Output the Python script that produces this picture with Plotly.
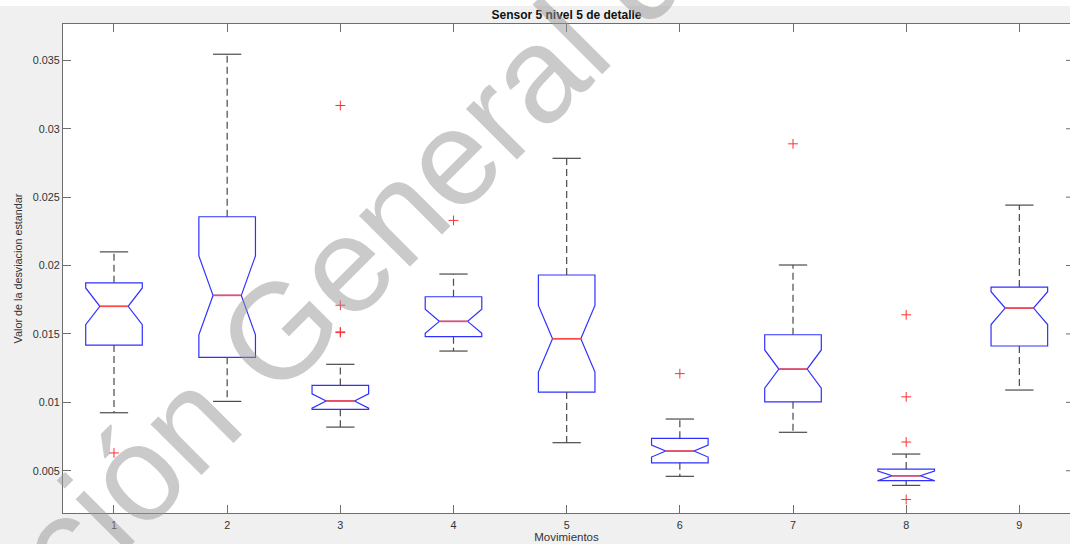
import plotly.graph_objects as go

# ---- data ----
movimientos = [1, 2, 3, 4, 5, 6, 7, 8, 9]
q1 = [0.01419, 0.01329, 0.00949, 0.01480, 0.01075, 0.00558, 0.01004, 0.00427, 0.01412]
medians = [0.01702, 0.01782, 0.01010, 0.01592, 0.01465, 0.00644, 0.01243, 0.00463, 0.01689]
q3 = [0.01874, 0.02357, 0.01124, 0.01772, 0.01931, 0.00737, 0.01494, 0.00512, 0.01843]
whisker_low = [0.00924, 0.01007, 0.00819, 0.01375, 0.00705, 0.00459, 0.00781, 0.00393, 0.01090]
whisker_high = [0.02100, 0.03545, 0.01278, 0.01938, 0.02784, 0.00878, 0.02004, 0.00622, 0.02442]
notch_span = [0.00134, 0.00289, 0.00052, 0.00088, 0.00244, 0.00044, 0.00140, 0.00035, 0.00120]

outlier_x = [1, 3, 3, 3, 3, 4, 6, 7, 8, 8, 8, 8]
outlier_y = [0.0063, 0.0317, 0.0171, 0.01515, 0.0151, 0.0233, 0.0121, 0.0289,
             0.0164, 0.0104, 0.0071, 0.0029]

y_tickvals = [0.005, 0.01, 0.015, 0.02, 0.025, 0.03, 0.035]
y_ticktext = ["0.005", "0.01", "0.015", "0.02", "0.025", "0.03", "0.035"]
x_ticktext = ["1", "2", "3", "4", "5", "6", "7", "8", "9"]

title_text = "Sensor 5 nivel 5 de detalle"
x_title = "Movimientos"
y_title = "Valor de la desviacion estandar"
watermark = "ción General de"

BOX_W = 0.5
CAP_HALF = 0.125
FONT = "Liberation Sans, Arial, sans-serif"
AXIS_COL = "#6e6e6e"
TEXT_COL = "#333333"

fig = go.Figure()

# notched boxes (blue)
fig.add_trace(go.Box(
    x=movimientos, q1=q1, median=medians, q3=q3,
    lowerfence=q1, upperfence=q3,
    notched=True, notchspan=notch_span, notchwidth=0.25,
    width=BOX_W, whiskerwidth=0,
    line=dict(color="#3030ff", width=1.2),
    fillcolor="rgba(255,255,255,0)",
    boxpoints=False, hoverinfo="skip", showlegend=False,
))

# dashed whiskers
wx, wy = [], []
for p, a, b, lo, hi in zip(movimientos, q1, q3, whisker_low, whisker_high):
    wx += [p, p, None, p, p, None]
    wy += [b, hi, None, a, lo, None]
fig.add_trace(go.Scatter(x=wx, y=wy, mode="lines",
                         line=dict(color="#4a4a4a", width=1.2, dash="7px,4px"),
                         hoverinfo="skip", showlegend=False))

# whisker caps
cx, cy = [], []
for p, lo, hi in zip(movimientos, whisker_low, whisker_high):
    cx += [p - CAP_HALF, p + CAP_HALF, None, p - CAP_HALF, p + CAP_HALF, None]
    cy += [hi, hi, None, lo, lo, None]
fig.add_trace(go.Scatter(x=cx, y=cy, mode="lines",
                         line=dict(color="#4a4a4a", width=1.2),
                         hoverinfo="skip", showlegend=False))

# red medians
mx, my = [], []
for p, m in zip(movimientos, medians):
    mx += [p - BOX_W * 0.25, p + BOX_W * 0.25, None]
    my += [m, m, None]
fig.add_trace(go.Scatter(x=mx, y=my, mode="lines",
                         line=dict(color="#ff4a4a", width=1.6),
                         hoverinfo="skip", showlegend=False))

# outliers
fig.add_trace(go.Scatter(x=outlier_x, y=outlier_y, mode="markers",
                         marker=dict(symbol="cross-thin", size=7,
                                     line=dict(color="#ff3030", width=1)),
                         hoverinfo="skip", showlegend=False))

# white plot panel drawn explicitly up to the right paper edge
fig.add_shape(type="rect", xref="paper", yref="paper",
              x0=0, x1=1.02, y0=0, y1=1,
              fillcolor="white", line=dict(width=0), layer="below")

# right-side tick marks (axis itself lies just beyond the image edge)
for v in y_tickvals:
    fig.add_shape(type="line", xref="paper", yref="y",
                  x0=1 - 4 / 1007, x1=1, y0=v, y1=v,
                  line=dict(color=AXIS_COL, width=1))

# white strip at very top of figure
fig.add_shape(type="rect", xref="paper", yref="paper",
              x0=-0.1, x1=1.1, y0=1 + 18 / 489, y1=1 + 30 / 489,
              fillcolor="white", line=dict(width=0), layer="below")

# watermark
fig.add_annotation(text=watermark, xref="paper", yref="paper",
                   x=(378 - 63) / 1007, y=(513 - 232) / 489,
                   xanchor="center", yanchor="middle",
                   showarrow=False, textangle=-45,
                   font=dict(family=FONT, size=136, color="rgba(150,150,150,0.5)"))

fig.update_layout(
    width=1070, height=544, autosize=False,
    margin=dict(l=63, r=0, t=24, b=31, autoexpand=False),
    paper_bgcolor="#f0f0f0", plot_bgcolor="white",
    font=dict(family=FONT, size=11, color=TEXT_COL),
    title=dict(text="<b>" + title_text + "</b>", x=0.5, xref="paper",
               y=1 - 15 / 544, yref="container", yanchor="middle",
               xanchor="center", automargin=False,
               font=dict(family=FONT, size=12, color="#111111")),
    xaxis=dict(range=[0.5494, 9.4476], tickvals=movimientos, ticktext=x_ticktext,
               ticks="inside", ticklen=8, tickcolor=AXIS_COL, tickwidth=1,
               showline=True, linecolor=AXIS_COL, linewidth=1, mirror="ticks",
               showgrid=False, zeroline=False, automargin=False,
               ticklabelstandoff=2,
               tickfont=dict(size=10.8, color=TEXT_COL),
               title=dict(text=x_title, standoff=0,
                          font=dict(size=11.5, color=TEXT_COL))),
    yaxis=dict(range=[0.00191, 0.03766], tickvals=y_tickvals, ticktext=y_ticktext,
               ticks="inside", ticklen=8, tickcolor=AXIS_COL, tickwidth=1,
               showline=True, linecolor=AXIS_COL, linewidth=1,
               showgrid=False, zeroline=False, automargin=False,
               tickfont=dict(size=10.8, color=TEXT_COL),
               title=dict(text=y_title, standoff=8,
                          font=dict(size=10.8, color=TEXT_COL))),
)

post = (
    "document.documentElement.style.overflow='hidden';"
    "document.body.style.margin='0';document.body.style.overflow='hidden';"
)
fig.write_html("out.html",
               config={"responsive": False, "displayModeBar": False},
               post_script=post)
